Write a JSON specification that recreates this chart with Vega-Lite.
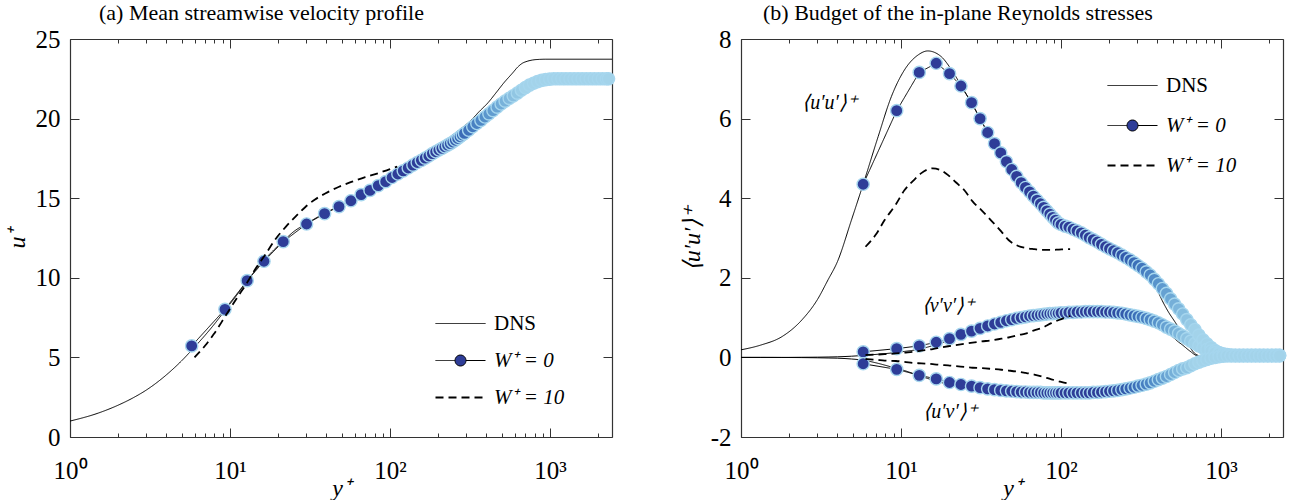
{
  "$schema": "https://vega.github.io/schema/vega-lite/v6.json",
  "background": "white",
  "padding": {"left": 5, "top": 2, "right": 0, "bottom": 0},
  "config": {
    "font": "Liberation Serif, serif",
    "view": {"stroke": null},
    "axis": {"grid": false, "domainColor": "#333", "domainWidth": 1.2, "tickColor": "#333", "tickWidth": 1, "labelFont": "Liberation Serif, serif", "labelFontSize": 25, "labelColor": "black", "titleFont": "Liberation Serif, serif", "titleFontSize": 24, "titleFontWeight": "normal", "titleColor": "black"},
    "title": {"font": "Liberation Serif, serif", "fontSize": 22, "fontWeight": "normal", "color": "black"},
    "legend": {"labelFont": "Liberation Serif, serif", "labelFontSize": 21, "labelColor": "black"}
  },
  "datasets": {
    "a_dns": [
      {"yp":1,"u":1},{"yp":1.5,"u":1.5},{"yp":2,"u":2},{"yp":2.5,"u":2.48},{"yp":3,"u":2.95},{"yp":4,"u":3.9},{"yp":5,"u":4.8},{"yp":6,"u":5.65},{"yp":7,"u":6.4},{"yp":8,"u":7.1},{"yp":9.3,"u":7.95},{"yp":11,"u":8.9},{"yp":12.8,"u":9.8},{"yp":14.5,"u":10.5},{"yp":16.3,"u":11.1},{"yp":19,"u":11.8},{"yp":21.5,"u":12.3},{"yp":25,"u":12.9},{"yp":30,"u":13.4},{"yp":39,"u":14.05},{"yp":48,"u":14.5},{"yp":57,"u":14.85},{"yp":66,"u":15.2},{"yp":75,"u":15.5},{"yp":85,"u":15.8},{"yp":94,"u":16.05},{"yp":110,"u":16.5},{"yp":138,"u":17.15},{"yp":160,"u":17.5},{"yp":184,"u":17.95},{"yp":212,"u":18.45},{"yp":245,"u":18.95},{"yp":280,"u":19.4},{"yp":320,"u":19.88},{"yp":360,"u":20.43},{"yp":410,"u":21.0},{"yp":458,"u":21.6},{"yp":520,"u":22.3},{"yp":582,"u":22.85},{"yp":630,"u":23.25},{"yp":670,"u":23.47},{"yp":720,"u":23.6},{"yp":778,"u":23.68},{"yp":860,"u":23.72},{"yp":940,"u":23.73},{"yp":2440,"u":23.73}
    ],
    "a_w0": [
      {"yp":5.76,"u":5.72},{"yp":9.3,"u":8.02},{"yp":12.8,"u":9.82},{"yp":16.3,"u":11.04},{"yp":21.5,"u":12.27},{"yp":30.1,"u":13.38},{"yp":39,"u":14.03},{"yp":48,"u":14.47},{"yp":57,"u":14.84},{"yp":66,"u":15.22},{"yp":75,"u":15.49},{"yp":84.5,"u":15.79},{"yp":94,"u":16.04},{"yp":103,"u":16.3},{"yp":112,"u":16.52},{"yp":121,"u":16.72},{"yp":130,"u":16.9},{"yp":139,"u":17.08},{"yp":148,"u":17.24},{"yp":157,"u":17.38},{"yp":166,"u":17.52},{"yp":175,"u":17.65},{"yp":184,"u":17.8},{"yp":193,"u":17.92},{"yp":202,"u":18.03},{"yp":211,"u":18.13},{"yp":220,"u":18.23},{"yp":229,"u":18.33},{"yp":238,"u":18.43},{"yp":247,"u":18.53},{"yp":256,"u":18.64},{"yp":265,"u":18.75},{"yp":274,"u":18.86},{"yp":283,"u":18.97},{"yp":292,"u":19.07},{"yp":310,"u":19.27},{"yp":329,"u":19.49},{"yp":349,"u":19.69},{"yp":370,"u":19.89},{"yp":392,"u":20.1},{"yp":415,"u":20.3},{"yp":440,"u":20.5},{"yp":467,"u":20.72},{"yp":495,"u":20.92},{"yp":524,"u":21.1},{"yp":556,"u":21.27},{"yp":589,"u":21.43},{"yp":625,"u":21.6},{"yp":662,"u":21.78},{"yp":702,"u":21.95},{"yp":744,"u":22.1},{"yp":789,"u":22.22},{"yp":836,"u":22.32},{"yp":886,"u":22.4},{"yp":939,"u":22.45},{"yp":996,"u":22.48},{"yp":1056,"u":22.5},{"yp":1119,"u":22.5},{"yp":1186,"u":22.5},{"yp":1257,"u":22.5},{"yp":1333,"u":22.5},{"yp":1413,"u":22.5},{"yp":1497,"u":22.5},{"yp":1587,"u":22.5},{"yp":1683,"u":22.5},{"yp":1784,"u":22.5},{"yp":1891,"u":22.5},{"yp":2004,"u":22.5},{"yp":2124,"u":22.5},{"yp":2252,"u":22.5},{"yp":2320,"u":22.5}
    ],
    "a_w10": [
      {"yp":6.0,"u":5.0},{"yp":7,"u":5.75},{"yp":7.9,"u":6.45},{"yp":9.3,"u":7.55},{"yp":11,"u":8.7},{"yp":12.8,"u":9.7},{"yp":14.5,"u":10.6},{"yp":16.6,"u":11.45},{"yp":19,"u":12.35},{"yp":22.3,"u":13.2},{"yp":26,"u":13.9},{"yp":29.6,"u":14.45},{"yp":34,"u":14.92},{"yp":39.6,"u":15.31},{"yp":48,"u":15.72},{"yp":58,"u":16.04},{"yp":70,"u":16.33},{"yp":85,"u":16.58},{"yp":98,"u":16.8},{"yp":111,"u":16.98}
    ],
    "b_dns": [
      {"yp":1,"uu":0.19,"vv":0,"uv":0},{"yp":1.33,"uu":0.31,"vv":0,"uv":0},{"yp":1.8,"uu":0.52,"vv":0,"uv":-0.002},{"yp":2.4,"uu":0.94,"vv":0.003,"uv":-0.005},{"yp":3,"uu":1.45,"vv":0.006,"uv":-0.01},{"yp":3.5,"uu":1.95,"vv":0.01,"uv":-0.015},{"yp":4,"uu":2.4,"vv":0.015,"uv":-0.02},{"yp":4.9,"uu":3.45,"vv":0.03,"uv":-0.04},{"yp":5.8,"uu":4.35,"vv":0.05,"uv":-0.07},{"yp":7.2,"uu":5.55,"vv":0.08,"uv":-0.15},{"yp":8.7,"uu":6.55,"vv":0.11,"uv":-0.24},{"yp":10.5,"uu":7.22,"vv":0.15,"uv":-0.33},{"yp":12.8,"uu":7.6,"vv":0.2,"uv":-0.45},{"yp":14.7,"uu":7.7,"vv":0.26,"uv":-0.53},{"yp":17.8,"uu":7.56,"vv":0.36,"uv":-0.63},{"yp":20.5,"uu":7.25,"vv":0.45,"uv":-0.69},{"yp":24,"uu":6.8,"vv":0.57,"uv":-0.75},{"yp":28.7,"uu":6.27,"vv":0.72,"uv":-0.82},{"yp":35,"uu":5.63,"vv":0.86,"uv":-0.86},{"yp":46.5,"uu":4.78,"vv":1.05,"uv":-0.9},{"yp":60,"uu":4.27,"vv":1.14,"uv":-0.92},{"yp":75,"uu":3.85,"vv":1.2,"uv":-0.93},{"yp":100,"uu":3.34,"vv":1.25,"uv":-0.93},{"yp":121,"uu":3.2,"vv":1.26,"uv":-0.93},{"yp":150,"uu":3.01,"vv":1.27,"uv":-0.92},{"yp":178,"uu":2.85,"vv":1.27,"uv":-0.91},{"yp":210,"uu":2.69,"vv":1.25,"uv":-0.89},{"yp":240,"uu":2.57,"vv":1.23,"uv":-0.86},{"yp":270,"uu":2.45,"vv":1.2,"uv":-0.83},{"yp":300,"uu":2.32,"vv":1.16,"uv":-0.79},{"yp":334,"uu":2.2,"vv":1.09,"uv":-0.74},{"yp":360,"uu":2.02,"vv":1.02,"uv":-0.69},{"yp":388,"uu":1.8,"vv":0.94,"uv":-0.63},{"yp":430,"uu":1.42,"vv":0.78,"uv":-0.52},{"yp":471,"uu":1.13,"vv":0.61,"uv":-0.41},{"yp":510,"uu":0.92,"vv":0.48,"uv":-0.31},{"yp":545,"uu":0.74,"vv":0.38,"uv":-0.22},{"yp":571,"uu":0.6,"vv":0.32,"uv":-0.17},{"yp":620,"uu":0.35,"vv":0.2,"uv":-0.1},{"yp":653,"uu":0.2,"vv":0.13,"uv":-0.06},{"yp":690,"uu":0.09,"vv":0.06,"uv":-0.03},{"yp":720,"uu":0.05,"vv":0.03,"uv":-0.02},{"yp":760,"uu":0.02,"vv":0.01,"uv":-0.01},{"yp":800,"uu":0,"vv":0,"uv":0},{"yp":900,"uu":0,"vv":0,"uv":0},{"yp":2440,"uu":0,"vv":0,"uv":0}
    ],
    "b_w0": [
      {"yp":5.8,"uu":4.35,"vv":0.14,"uv":-0.16},{"yp":9.4,"uu":6.2,"vv":0.22,"uv":-0.3},{"yp":13,"uu":7.16,"vv":0.29,"uv":-0.45},{"yp":16.6,"uu":7.39,"vv":0.38,"uv":-0.54},{"yp":20.1,"uu":7.13,"vv":0.47,"uv":-0.63},{"yp":23.7,"uu":6.82,"vv":0.58,"uv":-0.68},{"yp":27.6,"uu":6.4,"vv":0.66,"uv":-0.72},{"yp":31.2,"uu":6.0,"vv":0.73,"uv":-0.76},{"yp":34.8,"uu":5.65,"vv":0.79,"uv":-0.79},{"yp":38.4,"uu":5.37,"vv":0.84,"uv":-0.81},{"yp":42,"uu":5.14,"vv":0.88,"uv":-0.83},{"yp":45.6,"uu":4.92,"vv":0.92,"uv":-0.84},{"yp":49.2,"uu":4.72,"vv":0.95,"uv":-0.85},{"yp":52.8,"uu":4.55,"vv":0.98,"uv":-0.86},{"yp":56.4,"uu":4.39,"vv":1.0,"uv":-0.87},{"yp":60,"uu":4.27,"vv":1.02,"uv":-0.87},{"yp":63.6,"uu":4.16,"vv":1.04,"uv":-0.88},{"yp":67.2,"uu":4.05,"vv":1.05,"uv":-0.88},{"yp":70.8,"uu":3.95,"vv":1.06,"uv":-0.88},{"yp":74.4,"uu":3.86,"vv":1.07,"uv":-0.88},{"yp":78,"uu":3.77,"vv":1.08,"uv":-0.89},{"yp":81.6,"uu":3.68,"vv":1.09,"uv":-0.89},{"yp":85.2,"uu":3.6,"vv":1.1,"uv":-0.89},{"yp":88.8,"uu":3.52,"vv":1.1,"uv":-0.89},{"yp":92.4,"uu":3.45,"vv":1.11,"uv":-0.89},{"yp":96,"uu":3.38,"vv":1.11,"uv":-0.89},{"yp":100,"uu":3.34,"vv":1.12,"uv":-0.89},{"yp":106,"uu":3.3,"vv":1.12,"uv":-0.89},{"yp":112,"uu":3.27,"vv":1.13,"uv":-0.89},{"yp":119,"uu":3.22,"vv":1.13,"uv":-0.89},{"yp":126,"uu":3.18,"vv":1.14,"uv":-0.89},{"yp":134,"uu":3.13,"vv":1.14,"uv":-0.89},{"yp":142,"uu":3.07,"vv":1.15,"uv":-0.89},{"yp":150,"uu":3.01,"vv":1.15,"uv":-0.89},{"yp":159,"uu":2.96,"vv":1.15,"uv":-0.88},{"yp":169,"uu":2.9,"vv":1.15,"uv":-0.88},{"yp":179,"uu":2.84,"vv":1.15,"uv":-0.87},{"yp":190,"uu":2.78,"vv":1.14,"uv":-0.86},{"yp":201,"uu":2.73,"vv":1.14,"uv":-0.85},{"yp":213,"uu":2.68,"vv":1.13,"uv":-0.84},{"yp":226,"uu":2.63,"vv":1.12,"uv":-0.83},{"yp":240,"uu":2.57,"vv":1.11,"uv":-0.81},{"yp":254,"uu":2.51,"vv":1.09,"uv":-0.79},{"yp":270,"uu":2.45,"vv":1.07,"uv":-0.77},{"yp":286,"uu":2.38,"vv":1.05,"uv":-0.75},{"yp":303,"uu":2.31,"vv":1.03,"uv":-0.72},{"yp":321,"uu":2.24,"vv":1.01,"uv":-0.7},{"yp":341,"uu":2.15,"vv":0.98,"uv":-0.67},{"yp":361,"uu":2.07,"vv":0.95,"uv":-0.64},{"yp":383,"uu":1.96,"vv":0.91,"uv":-0.6},{"yp":406,"uu":1.85,"vv":0.87,"uv":-0.56},{"yp":430,"uu":1.73,"vv":0.82,"uv":-0.52},{"yp":456,"uu":1.61,"vv":0.76,"uv":-0.48},{"yp":484,"uu":1.47,"vv":0.71,"uv":-0.43},{"yp":513,"uu":1.34,"vv":0.66,"uv":-0.38},{"yp":543,"uu":1.22,"vv":0.6,"uv":-0.33},{"yp":576,"uu":1.09,"vv":0.54,"uv":-0.29},{"yp":611,"uu":0.95,"vv":0.47,"uv":-0.26},{"yp":647,"uu":0.82,"vv":0.41,"uv":-0.21},{"yp":686,"uu":0.7,"vv":0.35,"uv":-0.16},{"yp":727,"uu":0.56,"vv":0.29,"uv":-0.12},{"yp":771,"uu":0.44,"vv":0.24,"uv":-0.08},{"yp":817,"uu":0.34,"vv":0.2,"uv":-0.05},{"yp":866,"uu":0.25,"vv":0.16,"uv":-0.02},{"yp":918,"uu":0.17,"vv":0.12,"uv":0.0},{"yp":973,"uu":0.12,"vv":0.09,"uv":0.02},{"yp":1032,"uu":0.09,"vv":0.07,"uv":0.03},{"yp":1093,"uu":0.07,"vv":0.06,"uv":0.04},{"yp":1159,"uu":0.06,"vv":0.05,"uv":0.04},{"yp":1229,"uu":0.05,"vv":0.05,"uv":0.04},{"yp":1302,"uu":0.05,"vv":0.05,"uv":0.04},{"yp":1380,"uu":0.05,"vv":0.05,"uv":0.04},{"yp":1463,"uu":0.05,"vv":0.05,"uv":0.04},{"yp":1551,"uu":0.05,"vv":0.05,"uv":0.04},{"yp":1644,"uu":0.05,"vv":0.05,"uv":0.04},{"yp":1743,"uu":0.05,"vv":0.05,"uv":0.04},{"yp":1847,"uu":0.05,"vv":0.05,"uv":0.04},{"yp":1958,"uu":0.05,"vv":0.05,"uv":0.04},{"yp":2076,"uu":0.05,"vv":0.05,"uv":0.04},{"yp":2200,"uu":0.05,"vv":0.05,"uv":0.04},{"yp":2320,"uu":0.05,"vv":0.05,"uv":0.04}
    ],
    "b_w10": [
      {"yp":6.0,"uu":2.78,"vv":0.06,"uv":-0.04},{"yp":7,"uu":3.1,"vv":0.07,"uv":-0.06},{"yp":7.9,"uu":3.45,"vv":0.08,"uv":-0.08},{"yp":9.3,"uu":3.85,"vv":0.1,"uv":-0.09},{"yp":10.5,"uu":4.2,"vv":0.12,"uv":-0.11},{"yp":12,"uu":4.45,"vv":0.14,"uv":-0.14},{"yp":13.4,"uu":4.63,"vv":0.17,"uv":-0.15},{"yp":15.8,"uu":4.75,"vv":0.21,"uv":-0.17},{"yp":17.8,"uu":4.7,"vv":0.25,"uv":-0.19},{"yp":19.7,"uu":4.58,"vv":0.28,"uv":-0.2},{"yp":22,"uu":4.4,"vv":0.31,"uv":-0.22},{"yp":24.9,"uu":4.2,"vv":0.34,"uv":-0.24},{"yp":28,"uu":3.92,"vv":0.37,"uv":-0.26},{"yp":31.8,"uu":3.7,"vv":0.4,"uv":-0.27},{"yp":37,"uu":3.42,"vv":0.43,"uv":-0.29},{"yp":42.4,"uu":3.16,"vv":0.47,"uv":-0.31},{"yp":47,"uu":2.95,"vv":0.5,"uv":-0.33},{"yp":54,"uu":2.8,"vv":0.56,"uv":-0.36},{"yp":60,"uu":2.75,"vv":0.6,"uv":-0.39},{"yp":68,"uu":2.72,"vv":0.68,"uv":-0.43},{"yp":76,"uu":2.7,"vv":0.74,"uv":-0.48},{"yp":87,"uu":2.7,"vv":0.86,"uv":-0.55},{"yp":97,"uu":2.71,"vv":0.94,"uv":-0.6},{"yp":110,"uu":2.72,"vv":1.02,"uv":-0.65},{"yp":114,"uu":2.72,"vv":1.04,"uv":-0.66}
    ],
    "b_labels": [
      {"yp":3.6,"v":6.39,"t":"⟨u′u′⟩⁺"},{"yp":19.8,"v":1.29,"t":"⟨v′v′⟩⁺"},{"yp":20.4,"v":-1.38,"t":"⟨u′v′⟩⁺"}
    ]
  },
  "hconcat": [
    {
      "width": 542,
      "height": 398,
      "title": {"text": "(a) Mean streamwise velocity profile", "anchor": "start", "frame": "group", "dx": 29, "offset": 2},
      "layer": [
        {
          "data": {"name": "a_w0"},
          "mark": {"type": "line", "color": "black", "strokeWidth": 1},
          "encoding": {
            "x": {"field": "yp", "type": "quantitative", "scale": {"type": "log", "domain": [1, 2440], "nice": false},
              "axis": {"orient": "bottom", "title": "y⁺", "titleFontStyle": "italic", "titlePadding": -12, "values": [1,2,3,4,5,6,7,8,9,10,20,30,40,50,60,70,80,90,100,200,300,400,500,600,700,800,900,1000,2000], "labelExpr": "datum.value==1?'10⁰':datum.value==10?'10¹':datum.value==100?'10²':datum.value==1000?'10³':''", "tickSize": {"condition": {"test": "datum.value==1||datum.value==10||datum.value==100||datum.value==1000", "value": -9}, "value": -4}, "labelPadding": 30, "labelFlush": false, "labelOverlap": false, "labelBound": false}},
            "y": {"field": "u", "type": "quantitative", "scale": {"domain": [0, 25], "nice": false, "zero": false},
              "axis": {"orient": "left", "title": "u⁺", "titleFontStyle": "italic", "titlePadding": 6, "values": [0,5,10,15,20,25], "tickSize": -9, "labelPadding": 19, "labelOverlap": false}},
            "strokeDash": {"datum": "W⁺ = 0", "type": "nominal",
              "scale": {"domain": ["DNS", "W⁺ = 0", "W⁺ = 10"], "range": [[1, 0], [1, 0], [8, 5]]},
              "legend": {"orient": "none", "legendX": 380, "legendY": 274, "title": null, "symbolSize": 400, "labelOffset": 23, "rowPadding": 15, "symbolStrokeColor": "black",
                "encode": {
                  "symbols": {"update": {
                    "shape": {"signal": "datum.value === 'W⁺ = 0' ? 'M-2.5,0H-0.55M0.55,0H2.5M-0.55,0A0.55,0.55 0 1,1 0.55,0A0.55,0.55 0 1,1 -0.55,0Z' : 'M-2.5,0H2.5'"},
                    "fill": {"signal": "datum.value === 'W⁺ = 0' ? '#2e3d98' : 'transparent'"},
                    "stroke": {"value": "black"},
                    "strokeWidth": {"signal": "datum.value === 'W⁺ = 10' ? 1.8 : 1"}
                  }},
                  "labels": {"update": {"fontStyle": {"signal": "datum.value === 'DNS' ? 'normal' : 'italic'"}}}
                }}}
          }
        },
        {
          "data": {"name": "a_dns"},
          "mark": {"type": "line", "color": "black", "strokeWidth": 1, "interpolate": "monotone"},
          "encoding": {
            "x": {"field": "yp", "type": "quantitative",
              "axis": {"orient": "top", "title": null, "labels": false, "values": [1,2,3,4,5,6,7,8,9,10,20,30,40,50,60,70,80,90,100,200,300,400,500,600,700,800,900,1000,2000], "tickSize": {"condition": {"test": "datum.value==1||datum.value==10||datum.value==100||datum.value==1000", "value": -9}, "value": -4}}},
            "y": {"field": "u", "type": "quantitative",
              "axis": {"orient": "right", "title": null, "labels": false, "values": [0,5,10,15,20,25], "tickSize": -9}},
            "strokeDash": {"datum": "DNS", "type": "nominal"}
          }
        },
        {
          "data": {"name": "a_w0"},
          "mark": {"type": "point", "filled": true, "size": 150, "stroke": "#a6d6ee", "strokeWidth": 1.4, "opacity": 1},
          "encoding": {
            "x": {"field": "yp", "type": "quantitative", "axis": null},
            "y": {"field": "u", "type": "quantitative", "axis": null},
            "fill": {"field": "yp", "type": "quantitative", "scale": {"type": "log", "domain": [200, 700], "range": ["#2e3d98", "#a3d3ea"], "clamp": true}, "legend": null}
          }
        },
        {
          "data": {"name": "a_w10"},
          "mark": {"type": "line", "color": "black", "strokeWidth": 1.8, "interpolate": "monotone"},
          "encoding": {
            "x": {"field": "yp", "type": "quantitative", "axis": null},
            "y": {"field": "u", "type": "quantitative", "axis": null},
            "strokeDash": {"datum": "W⁺ = 10", "type": "nominal"}
          }
        }
      ],
      "resolve": {"axis": {"x": "independent", "y": "independent"}}
    },
    {
      "width": 542,
      "height": 398,
      "title": {"text": "(b) Budget of the in-plane Reynolds stresses", "anchor": "start", "frame": "group", "dx": 22, "offset": 2},
      "layer": [
        {
          "data": {"name": "b_w0"},
          "transform": [{"fold": ["uu", "vv", "uv"], "as": ["k", "v"]}],
          "mark": {"type": "line", "color": "black", "strokeWidth": 1},
          "encoding": {
            "x": {"field": "yp", "type": "quantitative", "scale": {"type": "log", "domain": [1, 2440], "nice": false},
              "axis": {"orient": "bottom", "title": "y⁺", "titleFontStyle": "italic", "titlePadding": -12, "values": [1,2,3,4,5,6,7,8,9,10,20,30,40,50,60,70,80,90,100,200,300,400,500,600,700,800,900,1000,2000], "labelExpr": "datum.value==1?'10⁰':datum.value==10?'10¹':datum.value==100?'10²':datum.value==1000?'10³':''", "tickSize": {"condition": {"test": "datum.value==1||datum.value==10||datum.value==100||datum.value==1000", "value": -9}, "value": -4}, "labelPadding": 30, "labelFlush": false, "labelOverlap": false, "labelBound": false}},
            "y": {"field": "v", "type": "quantitative", "scale": {"domain": [-2, 8], "nice": false, "zero": false},
              "axis": {"orient": "left", "title": "⟨u′u′⟩⁺", "titleFontStyle": "italic", "titlePadding": 6, "values": [-2,0,2,4,6,8], "labelExpr": "'' + datum.value", "tickSize": -9, "labelPadding": 19, "labelOverlap": false}},
            "detail": {"field": "k"},
            "strokeDash": {"datum": "W⁺ = 0", "type": "nominal",
              "scale": {"domain": ["DNS", "W⁺ = 0", "W⁺ = 10"], "range": [[1, 0], [1, 0], [8, 5]]},
              "legend": {"orient": "none", "legendX": 381, "legendY": 36, "title": null, "symbolSize": 400, "labelOffset": 23, "rowPadding": 18, "symbolStrokeColor": "black",
                "encode": {
                  "symbols": {"update": {
                    "shape": {"signal": "datum.value === 'W⁺ = 0' ? 'M-2.5,0H-0.55M0.55,0H2.5M-0.55,0A0.55,0.55 0 1,1 0.55,0A0.55,0.55 0 1,1 -0.55,0Z' : 'M-2.5,0H2.5'"},
                    "fill": {"signal": "datum.value === 'W⁺ = 0' ? '#2e3d98' : 'transparent'"},
                    "stroke": {"value": "black"},
                    "strokeWidth": {"signal": "datum.value === 'W⁺ = 10' ? 1.8 : 1"}
                  }},
                  "labels": {"update": {"fontStyle": {"signal": "datum.value === 'DNS' ? 'normal' : 'italic'"}}}
                }}}
          }
        },
        {
          "data": {"name": "b_dns"},
          "transform": [{"fold": ["uu", "vv", "uv"], "as": ["k", "v"]}],
          "mark": {"type": "line", "color": "black", "strokeWidth": 1, "interpolate": "monotone"},
          "encoding": {
            "x": {"field": "yp", "type": "quantitative",
              "axis": {"orient": "top", "title": null, "labels": false, "values": [1,2,3,4,5,6,7,8,9,10,20,30,40,50,60,70,80,90,100,200,300,400,500,600,700,800,900,1000,2000], "tickSize": {"condition": {"test": "datum.value==1||datum.value==10||datum.value==100||datum.value==1000", "value": -9}, "value": -4}}},
            "y": {"field": "v", "type": "quantitative",
              "axis": {"orient": "right", "title": null, "labels": false, "values": [-2,0,2,4,6,8], "tickSize": -9}},
            "detail": {"field": "k"},
            "strokeDash": {"datum": "DNS", "type": "nominal"}
          }
        },
        {
          "data": {"name": "b_w0"},
          "transform": [{"fold": ["uu", "vv", "uv"], "as": ["k", "v"]}],
          "mark": {"type": "point", "filled": true, "size": 150, "stroke": "#a6d6ee", "strokeWidth": 1.4, "opacity": 1},
          "encoding": {
            "x": {"field": "yp", "type": "quantitative", "axis": null},
            "y": {"field": "v", "type": "quantitative", "axis": null},
            "fill": {"field": "yp", "type": "quantitative", "scale": {"type": "log", "domain": [200, 700], "range": ["#2e3d98", "#a3d3ea"], "clamp": true}, "legend": null}
          }
        },
        {
          "data": {"name": "b_w10"},
          "transform": [{"fold": ["uu", "vv", "uv"], "as": ["k", "v"]}],
          "mark": {"type": "line", "color": "black", "strokeWidth": 1.8, "interpolate": "monotone"},
          "encoding": {
            "x": {"field": "yp", "type": "quantitative", "axis": null},
            "y": {"field": "v", "type": "quantitative", "axis": null},
            "detail": {"field": "k"},
            "strokeDash": {"datum": "W⁺ = 10", "type": "nominal"}
          }
        },
        {
          "data": {"name": "b_labels"},
          "mark": {"type": "text", "font": "Liberation Serif, serif", "fontSize": 20, "fontStyle": "italic", "color": "black", "align": "center", "baseline": "middle"},
          "encoding": {
            "x": {"field": "yp", "type": "quantitative", "axis": null},
            "y": {"field": "v", "type": "quantitative", "axis": null},
            "text": {"field": "t"}
          }
        }
      ],
      "resolve": {"axis": {"x": "independent", "y": "independent"}}
    }
  ],
  "spacing": 62,
  "resolve": {"scale": {"strokeDash": "independent"}}
}
